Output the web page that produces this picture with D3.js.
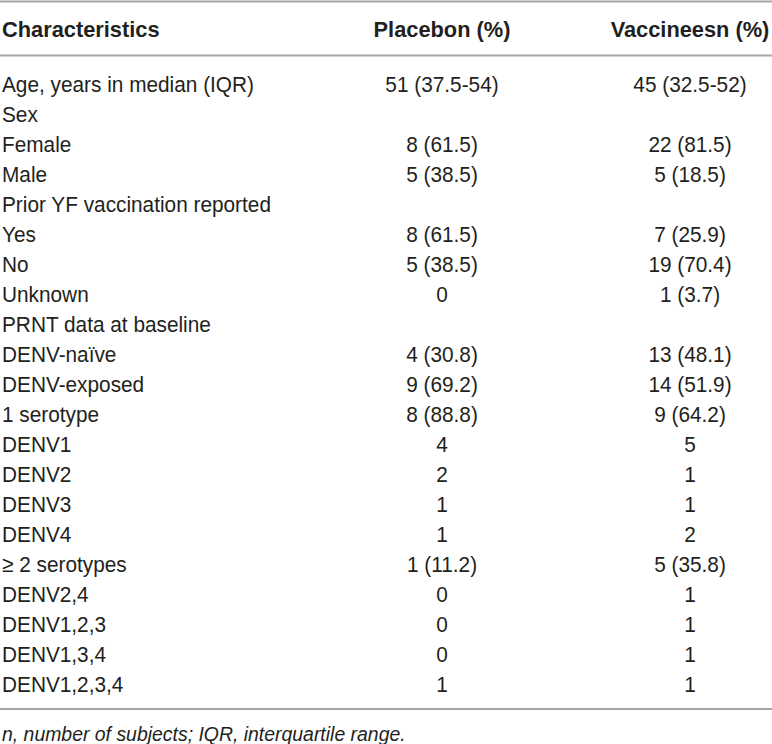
<!DOCTYPE html>
<html><head><meta charset="utf-8">
<script src="https://cdn.jsdelivr.net/npm/d3@7"></script>
<style>html,body{margin:0;padding:0;background:#fff;}svg{display:block;}</style>
</head><body>
<svg id="chart" width="772" height="744"></svg>
<script>
const headers = ["Characteristics", "Placebon (%)", "Vaccineesn (%)"];
const characteristics = ["Age, years in median (IQR)","Sex","Female","Male","Prior YF vaccination reported","Yes","No","Unknown","PRNT data at baseline","DENV-naïve","DENV-exposed","1 serotype","DENV1","DENV2","DENV3","DENV4","≥ 2 serotypes","DENV2,4","DENV1,2,3","DENV1,3,4","DENV1,2,3,4"];
const placebo = ["51 (37.5-54)","","8 (61.5)","5 (38.5)","","8 (61.5)","5 (38.5)","0","","4 (30.8)","9 (69.2)","8 (88.8)","4","2","1","1","1 (11.2)","0","0","0","1"];
const vaccinees = ["45 (32.5-52)","","22 (81.5)","5 (18.5)","","7 (25.9)","19 (70.4)","1 (3.7)","","13 (48.1)","14 (51.9)","9 (64.2)","5","1","1","2","5 (35.8)","1","1","1","1"];
const footnote = "n, number of subjects; IQR, interquartile range.";

const svg = d3.select("#chart");
const W = 772;
const font = "'Liberation Sans', Arial, Helvetica, sans-serif";
const textColor = "#231f20";
const lineColor = "#a6a6a6";
const sx = 0.925;

const y = d3.scalePoint().domain(d3.range(characteristics.length)).range([84, 684]);
const colX = d3.scaleOrdinal().domain([0,1,2]).range([2, 442, 690]);

// rules
[1.5, 55.5, 709].forEach(v => {
  svg.append("line").attr("x1",0).attr("x2",W).attr("y1",v).attr("y2",v)
    .attr("stroke",lineColor).attr("stroke-width",2);
});

// header
svg.append("g").selectAll("text").data(headers).join("text")
  .attr("x",(d,i)=>colX(i)).attr("y",29)
  .attr("dy","0.36em")
  .attr("text-anchor",(d,i)=>i===0?"start":"middle")
  .attr("font-family",font).attr("font-weight","bold").attr("font-size",21.8)
  .attr("fill",textColor).text(d=>d);

const rows = svg.append("g").selectAll("g").data(characteristics.map((c,i)=>({c,p:placebo[i],v:vaccinees[i],i})))
  .join("g");

function cell(sel, col, anchor, acc) {
  sel.append("g").attr("transform",d=>`translate(${colX(col)},${y(d.i)}) scale(${sx},1)`)
    .append("text").attr("dy","0.36em").attr("text-anchor",anchor)
    .attr("font-family",font).attr("font-size",22.5).attr("fill",textColor).text(acc);
}
cell(rows, 0, "start", d=>d.c);
cell(rows, 1, "middle", d=>d.p);
cell(rows, 2, "middle", d=>d.v);

svg.append("g").attr("transform",`translate(2,733) scale(${sx},1)`)
  .append("text").attr("dy","0.36em")
  .attr("font-family",font).attr("font-style","italic").attr("font-size",21)
  .attr("fill",textColor).text(footnote);
</script>
</body></html>
